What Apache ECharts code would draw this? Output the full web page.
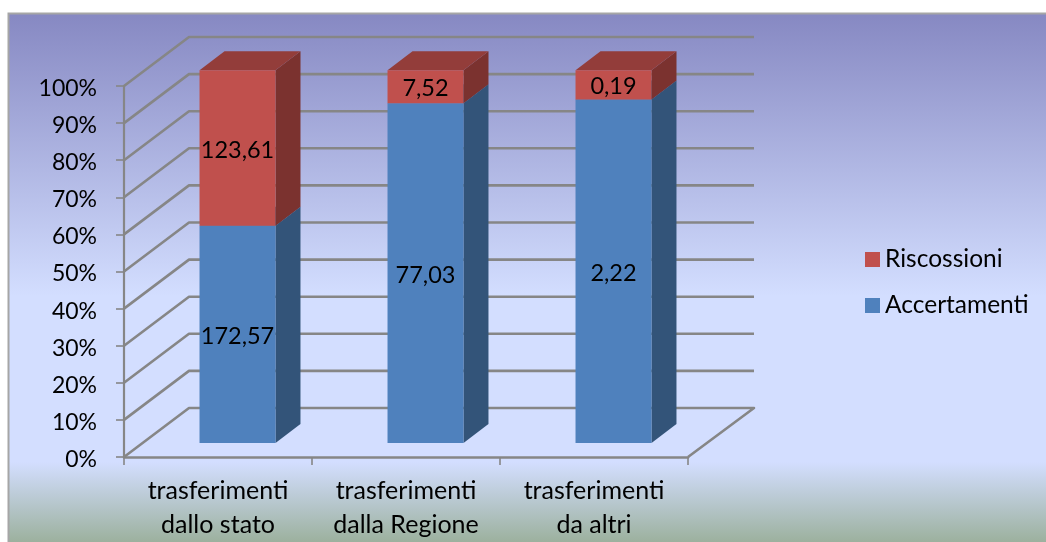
<!DOCTYPE html>
<html><head><meta charset="utf-8">
<style>html,body{margin:0;padding:0;background:#fff}#c{width:1046px;height:542px}</style>
<script src="https://cdn.jsdelivr.net/npm/echarts@6/dist/echarts.min.js"></script>
</head><body><div id="c"></div>
<script>
const categories = ['trasferimenti\ndallo stato', 'trasferimenti\ndalla Regione', 'trasferimenti\nda altri'];
const accertamenti = [172.57, 77.03, 2.22];
const riscossioni = [123.61, 7.52, 0.19];
const yTicks = [0, 10, 20, 30, 40, 50, 60, 70, 80, 90, 100];
const fmt = v => v.toFixed(2).replace('.', ',');

const FONT = 'Lato';
const WALL = [65, -49];      // axis plane -> back wall
const FRONT = [19.5, -14];   // axis plane -> bar front face
const DEPTH = [25, -19];     // bar depth
const BAR_RATIO = 0.404;
const GRID = '#868686';

const rows = (vals, isTop) => vals.map((v, i) => {
  const total = accertamenti[i] + riscossioni[i];
  const a = accertamenti[i] / total * 100;
  return isTop ? [i, a, 100, v] : [i, 0, a, v];
});

function barItem(colors) {
  return function (params, api) {
    const c0 = api.coord([api.value(0), api.value(1)]);
    const c1 = api.coord([api.value(0), api.value(2)]);
    const base = api.coord([0, 0])[1];
    const w = api.size([1, 0])[0] * BAR_RATIO;
    const x0 = c0[0] + FRONT[0] - w / 2, x1 = x0 + w;
    const h = v => base + FRONT[1] + (v - base) * 1.005;
    const yb = h(c0[1]), yt = h(c1[1]);
    const dx = DEPTH[0], dy = DEPTH[1];
    return {
      type: 'group',
      children: [
        { type: 'polygon', shape: { points: [[x1, yb], [x1 + dx, yb + dy], [x1 + dx, yt + dy], [x1, yt]] }, style: { fill: colors.side } },
        { type: 'polygon', shape: { points: [[x0, yt], [x0 + dx, yt + dy], [x1 + dx, yt + dy], [x1, yt]] }, style: { fill: colors.top } },
        { type: 'rect', shape: { x: x0, y: yt, width: w, height: yb - yt }, style: { fill: colors.front } },
        { type: 'text', z2: 10, style: { x: (x0 + x1) / 2, y: (yt + yb) / 2 + 2, text: fmt(api.value(3)), fill: '#000', font: '23.5px ' + FONT, align: 'center', verticalAlign: 'middle' } }
      ]
    };
  };
}

function wallItem(params, api) {
  const cs = params.coordSys;
  const y = api.coord([0, api.value(1)])[1];
  const left = cs.x, right = cs.x + cs.width;
  const pts = [[left, y], [left + WALL[0], y + WALL[1]], [right + WALL[0] + 1, y + WALL[1]]];
  if (api.value(1) === 0) pts.push([right, y]);
  return { type: 'polyline', shape: { points: pts }, style: { fill: null, stroke: GRID, lineWidth: 2.6, lineJoin: 'round' } };
}

const option = {
  animation: false,
  textStyle: { fontFamily: FONT },
  graphic: [{
    type: 'rect', z: -100, silent: true,
    shape: { x: 8.5, y: 13.5, width: 1060, height: 560 },
    style: {
      stroke: '#a6a6a6', lineWidth: 2,
      fill: { type: 'linear', x: 0, y: 0, x2: 0, y2: 1, global: false, colorStops: [
        { offset: 0, color: '#8688c2' },
        { offset: 0.505, color: '#d3deff' },
        { offset: 0.8, color: '#d3deff' },
        { offset: 0.945, color: '#9bb09c' },
        { offset: 1, color: '#9bb09c' }
      ] }
    }
  }],
  grid: { left: 124, top: 86, width: 564, height: 371 },
  legend: {
    orient: 'vertical', left: 860, top: 242, icon: 'rect', itemWidth: 15, itemHeight: 15, itemGap: 21,
    data: ['Riscossioni', 'Accertamenti'], selectedMode: false,
    textStyle: { fontSize: 24.5, color: '#000', fontFamily: FONT, padding: [0, 0, 0, 0] }
  },
  xAxis: {
    type: 'category', data: categories,
    axisLine: { lineStyle: { color: GRID, width: 2.6 } },
    axisTick: { show: true, length: 8, alignWithLabel: false, lineStyle: { color: GRID, width: 1.6 } },
    axisLabel: { color: '#000', fontSize: 25, fontFamily: FONT, lineHeight: 34, margin: 17, interval: 0 }
  },
  yAxis: {
    type: 'value', min: 0, max: 100, interval: 10,
    axisLine: { show: true, lineStyle: { color: GRID, width: 2.2 } },
    axisTick: { show: true, length: 8, lineStyle: { color: GRID, width: 1.6 } },
    splitLine: { show: false },
    axisLabel: { color: '#000', fontSize: 23, fontFamily: FONT, margin: 27, verticalAlign: 'top', lineHeight: 5, formatter: '{value}%' }
  },
  series: [
    { type: 'custom', name: 'walls', z: 1, silent: true, renderItem: wallItem, data: yTicks.map(v => [0, v]), encode: { x: 0, y: 1 } },
    { type: 'custom', name: 'Accertamenti', z: 3, itemStyle: { color: '#4f81bd' },
      renderItem: barItem({ front: '#4f81bd', side: '#335479', top: '#3f6797' }),
      data: rows(accertamenti, false), encode: { x: 0, y: [1, 2] } },
    { type: 'custom', name: 'Riscossioni', z: 4, itemStyle: { color: '#c0504d' },
      renderItem: barItem({ front: '#c0504d', side: '#7b322f', top: '#933d3a' }),
      data: rows(riscossioni, true), encode: { x: 0, y: [1, 2] } }
  ]
};
echarts.init(document.getElementById('c'), null, { renderer: 'canvas' }).setOption(option);
</script></body></html>
